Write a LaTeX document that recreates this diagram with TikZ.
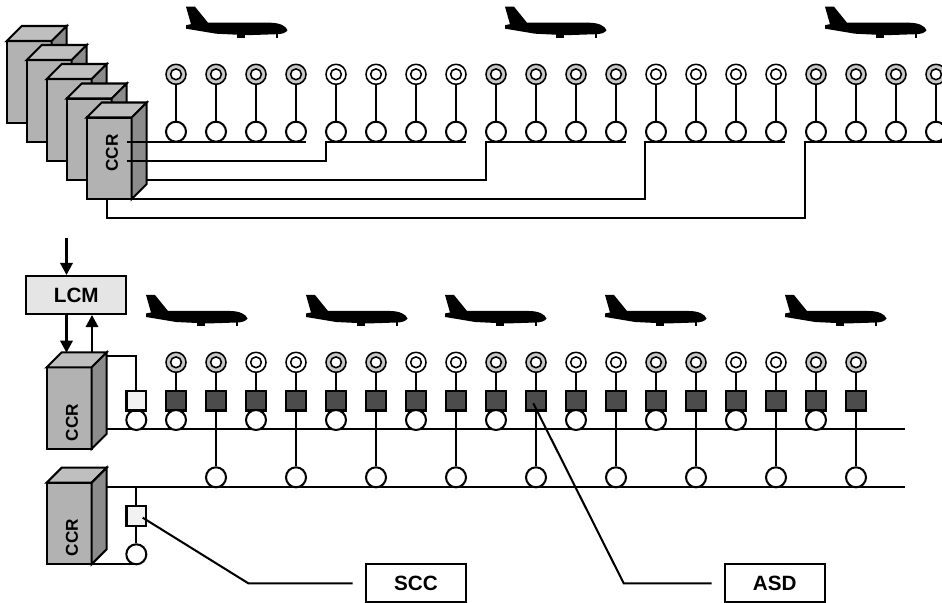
\documentclass[tikz,border=0pt]{standalone}
\usepackage{fontspec}
\setmainfont{Liberation Sans}
\usetikzlibrary{arrows.meta,positioning}

\newcommand{\ccrunit}[3]{%
\node[ccrfront] (#1) at (#2,#3) {};
\draw[ccrtop] (#1.north west) -- ++(15,-15) -- ++(45,0) -- ++(-15,15) -- cycle;
\draw[ccrside] (#1.north east) -- ++(15,-15) -- ++(0,81.5) -- ++(-15,15) -- cycle;
}
\newcommand{\lampat}[3]{%
\node[lamp, fill=#3] (#1) at (#2) {};
\node[lampin] at (#1) {};
}

\begin{document}
\begin{tikzpicture}[x=0.025cm, y=-0.025cm, >={Triangle[length=3mm,width=3.1mm]}, line width=1.45pt,
ccrfront/.style={rectangle, draw, fill=black!30, anchor=north west, minimum width=1.125cm, minimum height=2.04cm, outer sep=0pt},
ccrtop/.style={draw, fill=black!25},
ccrside/.style={draw, fill=black!45},
ccrtext/.style={font=\fontsize{12.2}{13}\selectfont\bfseries, rotate=90, inner sep=0pt},
lamp/.style={circle, draw, line width=1.1pt, minimum size=0.5cm, inner sep=0pt},
lampin/.style={circle, draw, line width=1.1pt, fill=white, minimum size=0.27cm, inner sep=0pt},
coupler/.style={circle, draw, fill=white, minimum size=0.5cm, inner sep=0pt},
asd/.style={rectangle, draw, fill=black!70, minimum size=0.49cm, inner sep=0pt},
scc/.style={rectangle, draw, fill=black!5, minimum size=0.49cm, inner sep=0pt},
tag/.style={rectangle, draw, minimum width=2.5cm, minimum height=0.94cm, font=\fontsize{14.7}{16}\selectfont\bfseries},
plane/.pic={
\fill (0,0) -- (9,0) -- (22,16) -- (84,16) .. controls (93,16) and (100,19) .. (101.5,23.5) .. controls (100,26) and (96,27.5) .. (91,27.5) -- (61,28.5) -- (30,27) -- (0,22) -- (0,18.5) -- (5,17.5) -- cycle;
\fill (50.7,27) rectangle (59,31.5);
\fill (90,27) rectangle (92,31.5);
}]
\useasboundingbox (0,0) rectangle (942,603);

\foreach \x/\y in {186/6.7,505/6.7,825/6.7,146/295,306/295,445/295,605/295,785/295}
  \pic at (\x,\y) {plane};

\ccrunit{ca}{6.7}{41}
\ccrunit{cb}{26.7}{60}
\ccrunit{cc}{46.7}{79}
\ccrunit{cd}{66.7}{98.5}
\ccrunit{ce}{86.7}{117.5}
\node[ccrtext] (cetext) at (112,153) {CCR};

\foreach \s/\c in {176/black!22,336/white,496/black!22,656/white,816/black!22}
  \foreach \k in {0,1,2,3} {
    \pgfmathtruncatemacro{\x}{\s+40*\k}
    \coordinate (p) at (\x,74.3);
    \lampat{tl\x}{p}{\c}
    \node[coupler] (tc\x) at (\x,131.7) {};
    \draw (tl\x) -- (tc\x);
  }

\coordinate (wa) at (126.7,141.7);
\coordinate (wb) at (126.7,160.7);
\coordinate (wc) at (146.7,180);
\coordinate (wd) at (131.7,199);
\coordinate (bb) at (326,141.7);
\coordinate (bc) at (485.7,141.7);
\coordinate (bd) at (645,141.7);
\coordinate (be) at (805,141.7);
\coordinate (ea) at (306,141.7);
\coordinate (eb) at (466,141.7);
\coordinate (ec) at (625.5,141.7);
\coordinate (ed) at (785,141.7);
\coordinate (ee) at (942,141.7);
\draw (wa) -- (ea);
\draw (wb) -| (bb) -- (eb);
\draw (wc) -| (bc) -- (ec);
\draw (wd) -| (bd) -- (ed);
\draw (106.7,199) |- (be |- 0,218) -- (be) -- (ee);

\node[rectangle, draw, fill=black!10, minimum width=2.5cm, minimum height=0.95cm, font=\fontsize{14.7}{16}\selectfont\bfseries] (lcm) at (76.3,295) {LCM};
\ccrunit{cf}{46.7}{367.3}
\ccrunit{cg}{46.7}{482.7}
\node[ccrtext] (cftext) at (72,422.5) {CCR};
\node[ccrtext] (cgtext) at (72,537.5) {CCR};

\coordinate (in) at (66.5,237.7);
\coordinate (cfa) at (66.5,352.7);
\coordinate (cfb) at (92,352.7);
\draw[->] (in) -- (in |- lcm.north);
\draw[->] (in |- lcm.south) -- (cfa);
\draw[->] (cfb) -- (cfb |- lcm.south);

\coordinate (bua) at (106.7,429.3);
\coordinate (bue) at (904.7,429.3);
\coordinate (bla) at (106.7,487);
\coordinate (ble) at (904.7,487);
\draw (bua) -- (bue);
\draw (bla) -- (ble);

\foreach \s/\c in {176/black!22,256/white,336/black!22,416/white,496/black!22,576/white,656/black!22,736/white,816/black!22}
  \foreach \k in {0,1} {
    \pgfmathtruncatemacro{\x}{\s+40*\k}
    \coordinate (p) at (\x,362.3);
    \lampat{bl\x}{p}{\c}
    \node[asd] (sq\x) at (\x,400.7) {};
    \draw (bl\x) -- (sq\x);
  }
\foreach \x in {176,256,336,416,496,576,656,736,816}
  \node[coupler] (uc\x) at (\x,420) {};
\foreach \x in {216,296,376,456,536,616,696,776,856} {
  \node[coupler] (lc\x) at (\x,477.3) {};
  \draw (sq\x) -- (lc\x);
}

\node[coupler] (ucs) at (136.3,420) {};
\node[scc] (sqa) at (136.3,400.7) {};
\coordinate (cfc) at (106.7,355.7);
\draw (cfc) -| (sqa);

\node[scc] (sqb) at (136.3,516) {};
\node[coupler] (lcs) at (136.3,554.3) {};
\coordinate (blb) at (136.3,487);
\coordinate (cgb) at (91.7,564.3);
\draw (blb) -- (sqb);
\draw (sqb) -- (lcs);
\draw (cgb) -- (cgb -| lcs);

\node[tag] (scctag) at (416,583.2) {SCC};
\node[tag] (asdtag) at (774.8,583.2) {ASD};
\coordinate (sccin) at (142.7,517.7);
\coordinate (sccb) at (248.3,583.3);
\coordinate (sccf) at (352.7,583.3);
\coordinate (asdin) at (533.3,403.3);
\coordinate (asdb) at (623.7,583.3);
\coordinate (asdf) at (711.7,583.3);
\draw (sccin) -- (sccb) -- (sccf);
\draw (asdin) -- (asdb) -- (asdf);
\end{tikzpicture}
\end{document}
